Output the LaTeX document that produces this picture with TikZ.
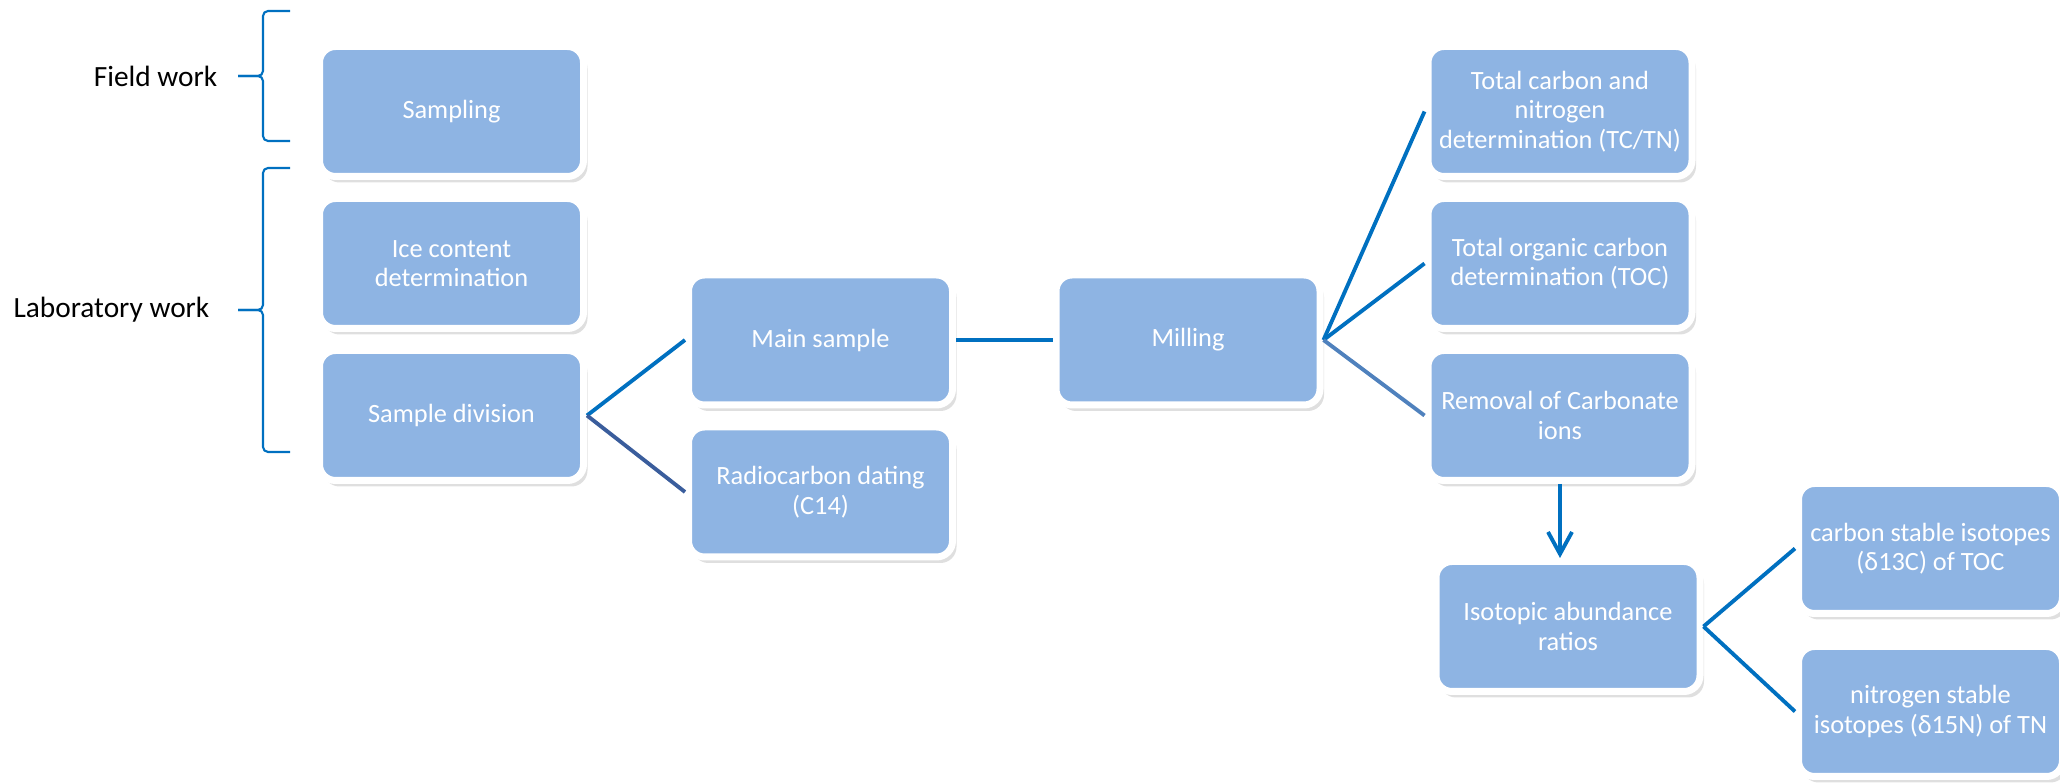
\documentclass[tikz,border=0pt]{standalone}
\usepackage{fontspec}
\setmainfont{Carlito}
\usetikzlibrary{arrows.meta,shadows}

\definecolor{boxblue}{HTML}{8EB4E3}
\definecolor{lineblue}{HTML}{0070C0}
\definecolor{darkline}{HTML}{3A5D9C}
\definecolor{softline}{HTML}{4F81BD}

\begin{document}
\begin{tikzpicture}[
        stepbox/.style={draw=white, line width=0.7mm, fill=boxblue, rounded corners=1.6mm,
            minimum width=26.4mm, minimum height=13mm, align=center, text=white,
            font=\fontsize{7.5}{8.4}\selectfont, inner sep=0.5mm,
            drop shadow={opacity=0.25, shadow xshift=0.4mm, shadow yshift=-0.6mm}},
        link/.style={line width=1.1pt, lineblue},
        worklabel/.style={font=\fontsize{8.35}{10}\selectfont, anchor=east, inner sep=0pt},
        bracket/.style={lineblue, line width=0.6pt, rounded corners=0.5mm}
    ]

        \useasboundingbox (0,0) rectangle (20.6,-7.83);

        \node[stepbox] (sampling) at (4.515,-1.115) {Sampling};
        \node[stepbox] (ice) at (4.515,-2.635) {Ice content\\determination};
        \node[stepbox] (division) at (4.515,-4.155) {Sample division};

        \node[stepbox] (main) at (8.205,-3.40) {Main sample};
        \node[stepbox] (radio) at (8.205,-4.92) {Radiocarbon dating\\(C14)};

        \node[stepbox] (milling) at (11.88,-3.40) {Milling};

        \node[stepbox] (tctn) at (15.60,-1.115) {Total carbon and\\nitrogen\\determination (TC/TN)};
        \node[stepbox] (toc) at (15.60,-2.635) {Total organic carbon\\determination (TOC)};
        \node[stepbox] (removal) at (15.60,-4.155) {Removal of Carbonate\\ions};

        \node[stepbox] (isotopic) at (15.68,-6.265) {Isotopic abundance\\ratios};
        \node[stepbox] (carbon) at (19.305,-5.485) {carbon stable isotopes\\(δ13C) of TOC};
        \node[stepbox] (nitrogen) at (19.305,-7.115) {nitrogen stable\\isotopes (δ15N) of TN};

        % #######################################

        \coordinate (fieldtop) at (2.90,-0.11);
        \coordinate (fieldbot) at (2.90,-1.41);
        \coordinate (fieldtip) at (2.38,-0.76);
        \coordinate (labtop) at (2.90,-1.68);
        \coordinate (labbot) at (2.90,-4.52);
        \coordinate (labtip) at (2.38,-3.10);

        \draw[bracket] (fieldtop) -- ++(-0.27,0) |- (fieldtip);
        \draw[bracket] (fieldbot) -- ++(-0.27,0) |- (fieldtip);
        \draw[bracket] (labtop) -- ++(-0.27,0) |- (labtip);
        \draw[bracket] (labbot) -- ++(-0.27,0) |- (labtip);

        \node[worklabel] (field) at (2.18,-0.76) {Field work};
        \node[worklabel] (lab) at (2.10,-3.10) {Laboratory work};

        % #######################################

        \draw[link] (division.east) -- (main.west);
        \draw[link, darkline] (division.east) -- (radio.west);
        \draw[link, line width=1.4pt] (main.east) -- (milling.west);
        \draw[link] (milling.east) -- (tctn.west);
        \draw[link] (milling.east) -- (toc.west);
        \draw[link, softline] (milling.east) -- (removal.west);
        \draw[link, -{Straight Barb[length=2.2mm, width=2.4mm]}] (removal.south) -- (removal.south |- isotopic.north);
        \draw[link] (isotopic.east) -- (carbon.west);
        \draw[link] (isotopic.east) -- (nitrogen.west);

    \end{tikzpicture}
\end{document}
